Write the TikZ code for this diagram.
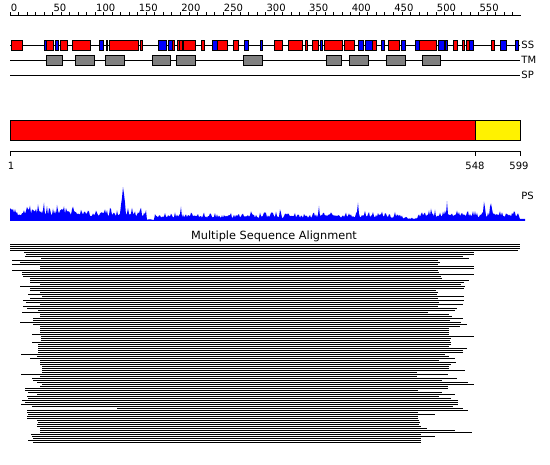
\documentclass[tikz,border=0pt]{standalone}
\usepackage{fontspec}
\setmainfont{DejaVu Sans}
\begin{document}
\begin{tikzpicture}[
    x=1pt, y=-1pt,
    line width=0.9pt,
    every node/.style={font=\fontsize{10}{12}\selectfont, inner sep=0pt},
    helix/.style={draw=black, fill=red, line width=0.8pt},
    strand/.style={draw=black, fill=blue, line width=0.8pt},
    tmbox/.style={draw=black, fill=gray, line width=0.8pt},
    track/.style={draw=black, line width=0.8pt},
    alnline/.style={draw=black, line width=1pt},
    declare function={
        spk(\p,\c,\h)=max(0,\h-9*abs(\p-\c));
        base(\p)=11*(\p<75)+9*(\p>=75)*(\p<147)+1.5*(\p>=147)*(\p<155)
                 +6*(\p>=155)*(\p<403)+3*(\p>=403)*(\p<418)+7*(\p>=418);
        psh(\p)=base(\p)*(0.5+0.5*rnd+0.7*rnd^4)
                +spk(\p,123,27)+spk(\p,38,8)+spk(\p,44,6)+spk(\p,57,5)
                +spk(\p,72,5)+spk(\p,107,5)+spk(\p,128,4)+spk(\p,181,9)
                +spk(\p,280,7)+spk(\p,319,10)+spk(\p,358,13)+spk(\p,365,6)
                +spk(\p,431,8)+spk(\p,447,10)+spk(\p,457,5)+spk(\p,484,14)
                +spk(\p,491,14);
    }
]
    \useasboundingbox (0,0) rectangle (550,465);
    \pgfmathsetseed{42}

    % --- TOP RULER ---
    \draw[track] (10,15) coordinate (rulerL) -- (521,15) coordinate (rulerR);
    \foreach \u in {0,10,...,590}
        \draw[track] (10+0.852*\u,15) -- (10+0.852*\u,12);
    \foreach \u in {0,50,...,550}
        \node[anchor=base west] (tick\u) at (10.5+0.852*\u,11.5) {\u};

    % --- TRACKS (SS, TM, SP) ---
    \draw[track] (10,45) -- (520,45);
    \draw[track] (10,60) -- (520,60);
    \draw[track] (10,75) -- (520,75);
    \node[anchor=west] (ssLabel) at (521,45) {SS};
    \node[anchor=west] (tmLabel) at (521,60) {TM};
    \node[anchor=west] (spLabel) at (521,75) {SP};

    % Helices
    \foreach \a/\b in {11/22, 46.3/53.7, 60.3/67.7, 72.3/90.3, 109.7/138.7,
                       140.3/142.7, 172.3/174.3, 177/179.5, 179.5/182, 183/195.7,
                       201/204.7, 217.3/227.7, 233/238.7, 274/282.7, 288.3/302.7,
                       305.3/307.3, 312.3/318.7, 324.7/342.7, 344.7/354.7,
                       372.3/376, 388.3/399.7, 419.3/436.7, 453.3/457.7,
                       462.3/464.3, 466.7/469.3, 491/494.3}
        \draw[helix] (\a,40) rectangle (\b,50);

    % Strands
    \foreach \a/\b in {44.3/46.3, 55.3/58.7, 99.3/103.7, 106/107.7, 158.3/166.7,
                       168.3/172, 212/217.3, 244.3/248.7, 260/262.7, 320/322.3,
                       358.3/363.7, 365.3/372.3, 381.3/384.7, 401.3/405.7,
                       415.7/419.3, 438.3/444, 445/447, 469.3/473.7, 500.3/506,
                       515.7/518.3}
        \draw[strand] (\a,40) rectangle (\b,50);

    % Transmembrane segments
    \foreach \a/\b in {46.3/62.7, 75.3/94.3, 105.3/124.3, 152.3/170.7, 176.3/195.7,
                       243.3/262.7, 326/341.7, 349/368.3, 386/405.3, 422.3/440.7}
        \draw[tmbox] (\a,55) rectangle (\b,65);

    % --- DOMAIN BAR ---
    \draw[track, fill=red] (10,120) rectangle (475.5,140.5);
    \draw[track, fill=yellow] (475.5,120) rectangle (520,140.5);

    \draw[track] (10,151) -- (520,151);
    \foreach \p in {10,475.5,520}
        \draw[track] (\p,151) -- (\p,156);
    \node[anchor=base] (posFirst) at (11,170) {1};
    \node[anchor=base] (posSplit) at (475,170) {548};
    \node[anchor=base] (posLast)  at (519,170) {599};

    % --- PS PROFILE ---
    \fill[blue] (10,221) -- plot[domain=10:519, samples=510, variable=\t]
        (\t,{221-psh(\t)}) -- (520,219) -- (525,219) -- (525,221) -- cycle;
    \node[anchor=base west] (psLabel) at (521,200) {PS};

    % --- MULTIPLE SEQUENCE ALIGNMENT ---
    \node[anchor=base, font=\fontsize{11.3}{13}\selectfont] (msaTitle) at (274,240)
        {Multiple Sequence Alignment};
    \foreach \l/\r [count=\i from 0] in {
        10/520,10/520,10/520,10/518,24/474,26/474,25/463,41/469,12/438,20/440,
        12/438,40/474,40/474,12/438,22/439,22/474,23/441,30/442,30/469,30/464,
        40/461,20/465,30/464,30/436,40/438,28/437,42/464,30/438,23/464,26/439,
        40/463,23/438,27/457,38/455,22/428,40/449,40/452,33/463,33/450,20/461,
        33/467,40/460,40/449,40/449,40/449,32/449,41/474,41/451,41/450,32/451,
        38/451,38/449,38/467,38/463,38/463,21/445,37/449,30/455,40/439,40/456,
        40/451,42/449,42/449,42/465,42/417,21/448,40/417,32/457,33/442,37/468,
        42/474,40/448,25/448,25/418,28/442,37/455,27/439,28/451,22/458,25/458,
        21/458,32/453,117/463,27/468,27/418,28/435,27/418,27/418,37/419,38/420,
        37/419,37/421,40/427,40/455,40/472,31/421,32/435,33/421,28/421,33/421}
        \draw[alnline] (\l,245+2*\i) -- (\r,245+2*\i);

\end{tikzpicture}
\end{document}
